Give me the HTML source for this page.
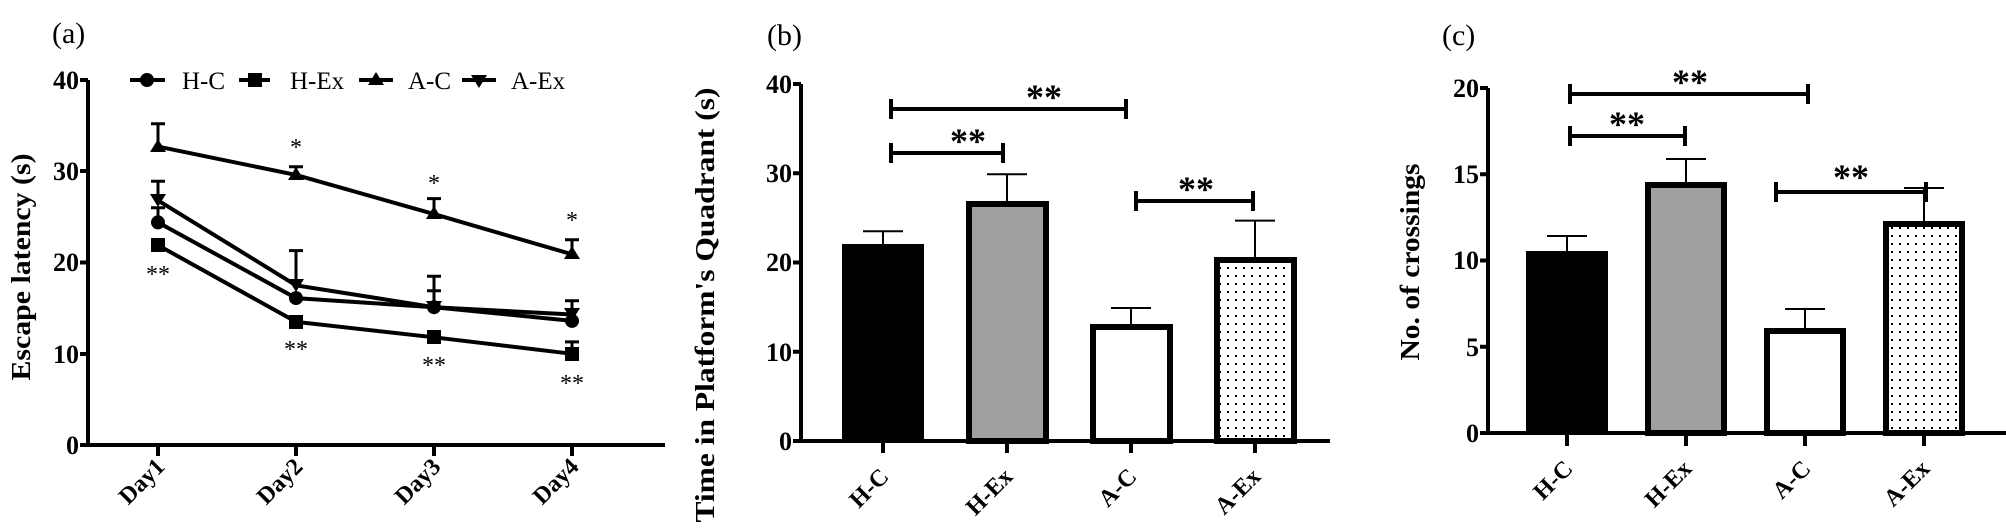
<!DOCTYPE html>
<html><head><meta charset="utf-8"><style>
html,body{margin:0;padding:0;background:#fff;}
svg{display:block;}
text{font-family:"Liberation Serif",serif;fill:#000;}
.t{font-weight:bold;font-size:26px;}
.x{font-weight:bold;font-size:24px;}
.lab{font-weight:bold;font-size:27px;}
.pl{font-size:30px;}
.st{font-weight:bold;font-size:36px;}
.sa{font-size:24px;}
</style></head><body>
<svg width="2006" height="528" viewBox="0 0 2006 528" xmlns="http://www.w3.org/2000/svg">
<defs>
<pattern id="dots" width="8" height="8" patternUnits="userSpaceOnUse">
<rect width="8" height="8" fill="#fff"/><rect x="3" y="3" width="2" height="2" fill="#000"/>
</pattern>
</defs>
<g stroke="#000" fill="none" stroke-width="4">
<path d="M88 80 V445 H665"/>
<path d="M80 80H88M80 171H88M80 262.5H88M80 354H88M80 445H88"/>
<path d="M158 445v11M296 445v11M434 445v11M572 445v11"/>
</g>
<text class="pl" x="52" y="43">(a)</text>
<g class="t" text-anchor="end">
<text x="79" y="89">40</text><text x="79" y="180">30</text><text x="79" y="271">20</text><text x="79" y="363">10</text><text x="79" y="454">0</text>
</g>
<text class="lab" transform="translate(30,267) rotate(-90)" text-anchor="middle" textLength="227" lengthAdjust="spacingAndGlyphs">Escape latency (s)</text>
<g class="x" text-anchor="end">
<text transform="translate(166,468) rotate(-45)">Day1</text>
<text transform="translate(304,468) rotate(-45)">Day2</text>
<text transform="translate(442,468) rotate(-45)">Day3</text>
<text transform="translate(580,468) rotate(-45)">Day4</text>
</g>
<g stroke="#000" stroke-width="3">
<path d="M158 146.6V123.8M151 123.8h14M296 174.9V166.7M289 166.7h14M434 214.1V198.6M427 198.6h14M572 254.3V239.7M565 239.7h14"/>
<path d="M158 200.4V181.3M151 181.3h14M296 285.3V250.6M289 250.6h14M434 307.2V276.2M427 276.2h14M572 314.5V300.8M565 300.8h14"/>
<path d="M158 222.4V207.8M151 207.8h14M434 307.2V290.8M427 290.8h14"/>
<path d="M572 353.8V341.9M565 341.9h14"/>
</g>
<g stroke="#000" stroke-width="4" fill="none">
<polyline points="158,146.6 296,174.9 434,214.1 572,254.3"/>
<polyline points="158,200.4 296,285.3 434,307.2 572,314.5"/>
<polyline points="158,222.4 296,298.1 434,307.2 572,320.9"/>
<polyline points="158,245.2 296,321.8 434,337.3 572,353.8"/>
</g>
<g fill="#000">
<path d="M158 139l8 13h-16zM296 167l8 13h-16zM434 206l8 13h-16zM572 246l8 13h-16z"/>
<path d="M158 207l8 -13h-16zM296 292l8 -13h-16zM434 314l8 -13h-16zM572 321l8 -13h-16z"/>
<circle cx="158" cy="222.4" r="7"/><circle cx="296" cy="298.1" r="7"/><circle cx="434" cy="307.2" r="7"/><circle cx="572" cy="320.9" r="7"/>
<rect x="151" y="238" width="14" height="14"/><rect x="289" y="315" width="14" height="14"/><rect x="427" y="330" width="14" height="14"/><rect x="565" y="347" width="14" height="14"/>
</g>
<g class="sa" text-anchor="middle">
<text x="158" y="282">**</text>
<text x="296" y="155">*</text><text x="296" y="357">**</text>
<text x="434" y="191">*</text><text x="434" y="373">**</text>
<text x="572" y="228">*</text><text x="572" y="391">**</text>
</g>
<g stroke="#000" stroke-width="4"><path d="M130 80h35M239 80h31M359 80h34M462 80h34"/></g>
<g fill="#000"><circle cx="147" cy="80" r="7"/><rect x="248" y="73" width="14" height="14"/><path d="M376 72l8 13h-16zM479 88l8 -13h-16z"/></g>
<g style="font-size:25px">
<text x="182" y="89">H-C</text><text x="290" y="89">H-Ex</text><text x="408" y="89">A-C</text><text x="511" y="89">A-Ex</text>
</g>

<text class="pl" x="767" y="45">(b)</text>
<g stroke="#000" fill="none" stroke-width="4">
<path d="M801 84 V441 H1330"/>
<path d="M793 84H801M793 173.3H801M793 262.5H801M793 351.8H801M793 441H801"/>
<path d="M883 441v12M1007 441v12M1131 441v12M1255 441v12"/>
</g>
<g class="t" text-anchor="end">
<text x="792" y="93">40</text><text x="792" y="182">30</text><text x="792" y="271">20</text><text x="792" y="361">10</text><text x="792" y="450">0</text>
</g>
<text class="lab" transform="translate(714,305) rotate(-90)" text-anchor="middle" textLength="435" lengthAdjust="spacingAndGlyphs">Time in Platform's Quadrant (s)</text>
<g stroke="#000" stroke-width="2">
<path d="M883 244.6V231.3M863 231.3h40M1007 201.8V174.2M987 174.2h40M1131 325V308M1111 308h40M1255 258V220.6M1235 220.6h40"/>
</g>
<rect x="844" y="246" width="78" height="195" fill="#000" stroke="#000" stroke-width="4"/>
<rect x="969" y="204" width="77" height="237" fill="#a0a0a0" stroke="#000" stroke-width="6"/>
<rect x="1093" y="327" width="77" height="114" fill="#fff" stroke="#000" stroke-width="6"/>
<rect x="1217" y="260" width="77" height="181" fill="url(#dots)" stroke="#000" stroke-width="6"/>
<g stroke="#000" stroke-width="4" fill="none">
<path d="M891 99v20M891 109H1126M1126 99v20"/>
<path d="M891 143v20M891 153H1003M1003 143v20"/>
<path d="M1136 191v20M1136 201H1253M1253 191v20"/>
</g>
<g class="st" text-anchor="middle">
<text x="1044" y="109">**</text><text x="968" y="153">**</text><text x="1196" y="201">**</text>
</g>
<g class="x" text-anchor="end">
<text transform="translate(890,478) rotate(-45)">H-C</text>
<text transform="translate(1014,478) rotate(-45)">H-Ex</text>
<text transform="translate(1138,478) rotate(-45)">A-C</text>
<text transform="translate(1262,478) rotate(-45)">A-Ex</text>
</g>

<text class="pl" x="1442" y="45">(c)</text>
<g stroke="#000" fill="none" stroke-width="4">
<path d="M1488 88 V433 H2006"/>
<path d="M1480 88H1488M1480 174.3H1488M1480 260.5H1488M1480 346.8H1488M1480 433H1488"/>
<path d="M1567 433v13M1686 433v13M1805 433v13M1924 433v13"/>
</g>
<g class="t" text-anchor="end">
<text x="1479" y="97">20</text><text x="1479" y="183">15</text><text x="1479" y="269">10</text><text x="1479" y="356">5</text><text x="1479" y="442">0</text>
</g>
<text class="lab" transform="translate(1419,262) rotate(-90)" text-anchor="middle" textLength="197" lengthAdjust="spacingAndGlyphs">No. of crossings</text>
<g stroke="#000" stroke-width="2">
<path d="M1567 252V236M1547 236h40M1686 183V159M1666 159h40M1805 329.5V309M1785 309h40M1924 222.5V188M1904 188h40"/>
</g>
<rect x="1528" y="253" width="78" height="180" fill="#000" stroke="#000" stroke-width="4"/>
<rect x="1648" y="185" width="76" height="248" fill="#a0a0a0" stroke="#000" stroke-width="6"/>
<rect x="1767" y="331" width="76" height="102" fill="#fff" stroke="#000" stroke-width="6"/>
<rect x="1886" y="224" width="76" height="209" fill="url(#dots)" stroke="#000" stroke-width="6"/>
<g stroke="#000" stroke-width="4" fill="none">
<path d="M1570 84v20M1570 94H1808M1808 84v20"/>
<path d="M1570 126v20M1570 136H1685M1685 126v20"/>
<path d="M1776 182v20M1776 192H1926M1926 182v20"/>
</g>
<g class="st" text-anchor="middle">
<text x="1690" y="94">**</text><text x="1627" y="136">**</text><text x="1851" y="189">**</text>
</g>
<g class="x" text-anchor="end">
<text transform="translate(1574,470) rotate(-45)">H-C</text>
<text transform="translate(1693,470) rotate(-45)">H-Ex</text>
<text transform="translate(1812,470) rotate(-45)">A-C</text>
<text transform="translate(1931,470) rotate(-45)">A-Ex</text>
</g>
</svg>
</body></html>
